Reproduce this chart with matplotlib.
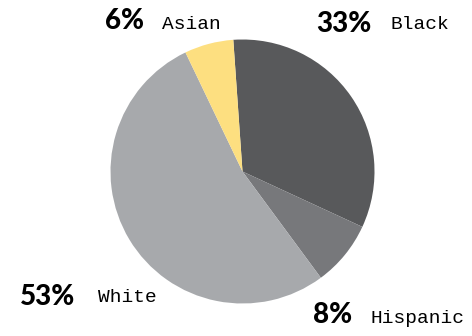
import matplotlib
matplotlib.use("Agg")
import matplotlib.pyplot as plt

groups = ["Black", "Hispanic", "White", "Asian"]
shares = [33, 8, 53, 6]
colors = ["#58595b", "#77787b", "#a7a9ac", "#fddf80"]

W, H = 472, 336
fig = plt.figure(figsize=(W / 100, H / 100), dpi=100)
ax = fig.add_axes([110.5 / W, 32.5 / H, 264 / W, 264 / H])
ax.pie(shares, colors=colors, startangle=94, counterclock=False,
       radius=1, wedgeprops=dict(linewidth=0))
ax.set_xlim(-1, 1)
ax.set_ylim(-1, 1)
ax.set_aspect("equal")
ax.axis("off")

# label positions in pixels (left, baseline from top)
pct_pos = {"Asian": (105, 29), "Black": (316, 32), "White": (20, 305), "Hispanic": (313, 323)}
name_pos = {"Asian": (162, 29), "Black": (391, 29), "White": (98, 302), "Hispanic": (370, 323)}

for g, s in zip(groups, shares):
    px, py = pct_pos[g]
    fig.text(px / W, 1 - py / H, f"{s}%", fontsize=20, fontweight="black",
             family="Lato", ha="left", va="baseline", color="black")
    nx_, ny_ = name_pos[g]
    fig.text(nx_ / W, 1 - ny_ / H, g, fontsize=14, family="Liberation Mono",
             ha="left", va="baseline", color="black")

fig.savefig("out.png", dpi=100)
